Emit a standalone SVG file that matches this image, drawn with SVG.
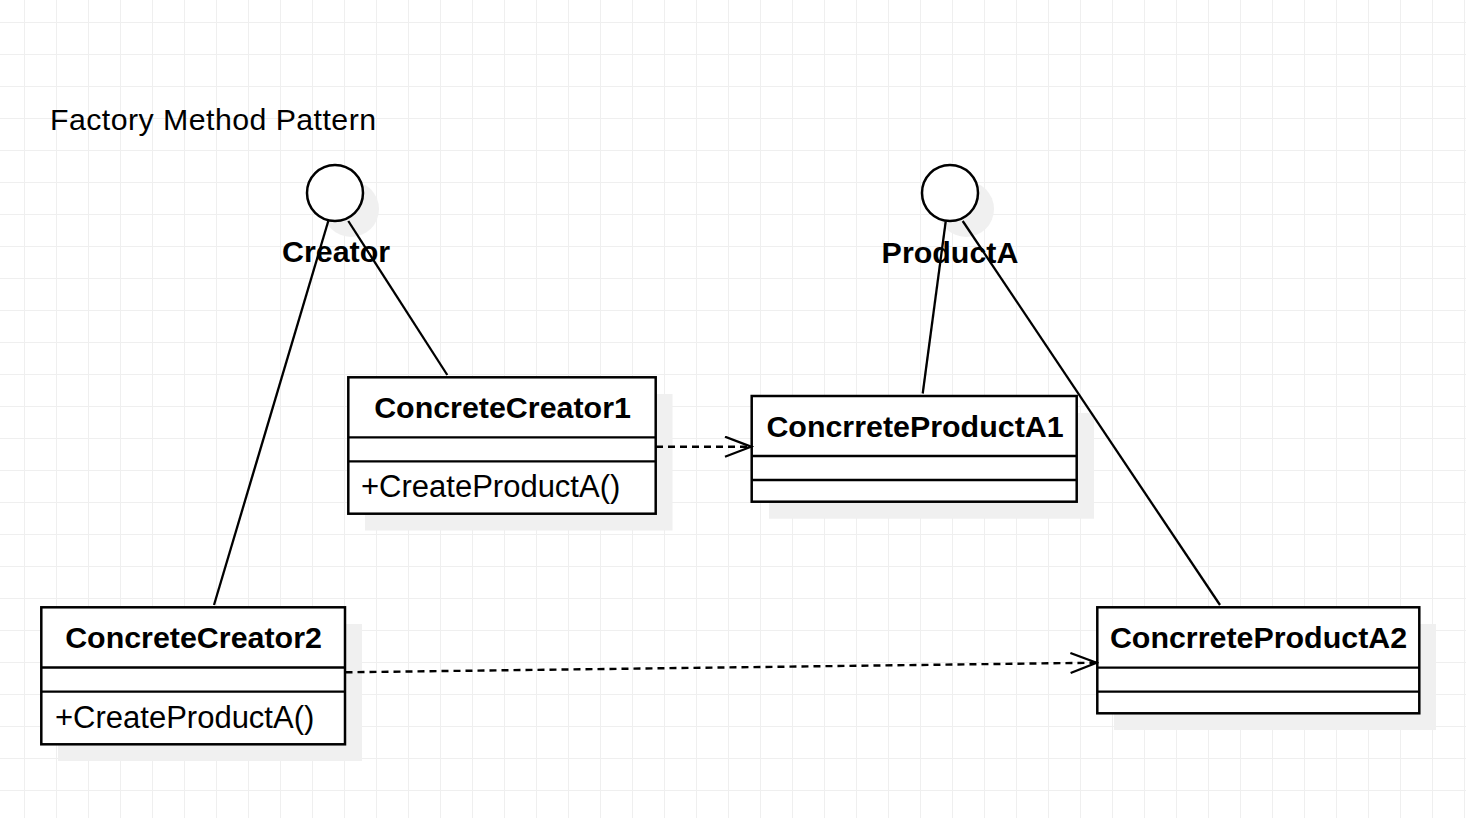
<svg xmlns="http://www.w3.org/2000/svg" width="1466" height="818" viewBox="0 0 1466 818">
<defs>
<pattern id="grid" x="24" y="22" width="32" height="32" patternUnits="userSpaceOnUse">
<path d="M0.5 0 V32 M0 0.5 H32" fill="none" stroke="#efefef" stroke-width="1"/>
</pattern>
<marker id="open" markerWidth="30" markerHeight="24" refX="27" refY="11" orient="auto" markerUnits="userSpaceOnUse">
<path d="M1 1 L27 11 L1 21" fill="none" stroke="#000" stroke-width="2.3"/>
</marker>
<style>
.box{fill:#fff;stroke:#000;stroke-width:2.5}
.div{stroke:#000;stroke-width:2.3}
.sh{fill:#f0f0f0}
.ln{stroke:#000;stroke-width:2.3;fill:none}
.dash{stroke:#000;stroke-width:2.4;fill:none;stroke-dasharray:7 5}
.t{font-family:"Liberation Sans",Arial,sans-serif;font-size:31px;fill:#000}
.b{font-weight:bold;text-anchor:middle;font-size:30.4px}
</style>
</defs>
<rect width="1466" height="818" fill="#fff"/>
<rect width="1466" height="818" fill="url(#grid)"/>
<text class="t" x="50" y="130" style="font-size:30.3px;letter-spacing:0.45px">Factory Method Pattern</text>

<g id="Creator">
<circle class="sh" cx="351" cy="209" r="28"/>
<circle cx="335" cy="193" r="28" fill="#fff" stroke="#000" stroke-width="2.5"/>
<text class="t b" x="336" y="262">Creator</text>
</g>
<g id="ProductA">
<circle class="sh" cx="966" cy="209" r="28"/>
<circle cx="950" cy="193" r="28" fill="#fff" stroke="#000" stroke-width="2.5"/>
<text class="t b" x="950" y="263">ProductA</text>
</g>

<g id="ConcreteCreator1">
<rect class="sh" x="365" y="394" width="307.5" height="136.5"/>
<rect class="box" x="348.3" y="377.3" width="307.4" height="136.4"/>
<line class="div" x1="348.3" y1="437.3" x2="655.7" y2="437.3"/>
<line class="div" x1="348.3" y1="461.3" x2="655.7" y2="461.3"/>
<text class="t b" x="502.5" y="418">ConcreteCreator1</text>
<text class="t" x="361" y="497">+CreateProductA()</text>
</g>
<g id="ConcreteCreator2">
<rect class="sh" x="58" y="624" width="304" height="137"/>
<rect class="box" x="41.3" y="607.3" width="303.7" height="137"/>
<line class="div" x1="41.3" y1="667.5" x2="345" y2="667.5"/>
<line class="div" x1="41.3" y1="691.7" x2="345" y2="691.7"/>
<text class="t b" x="193.5" y="648">ConcreteCreator2</text>
<text class="t" x="55" y="728">+CreateProductA()</text>
</g>
<g id="ConcrreteProductA1">
<rect class="sh" x="769" y="413" width="325" height="105.7"/>
<rect class="box" x="751.7" y="396" width="325" height="105.7"/>
<line class="div" x1="751.7" y1="456" x2="1076.7" y2="456"/>
<line class="div" x1="751.7" y1="480" x2="1076.7" y2="480"/>
<text class="t b" x="915" y="437">ConcrreteProductA1</text>
</g>
<g id="ConcrreteProductA2">
<rect class="sh" x="1114" y="624" width="322" height="106"/>
<rect class="box" x="1097.3" y="607.3" width="322" height="106"/>
<line class="div" x1="1097.3" y1="667.7" x2="1419.3" y2="667.7"/>
<line class="div" x1="1097.3" y1="691.7" x2="1419.3" y2="691.7"/>
<text class="t b" x="1258.5" y="648">ConcrreteProductA2</text>
</g>

<g id="connectors">
<line class="ln" x1="348.3" y1="221" x2="447.3" y2="375"/>
<line class="ln" x1="328.3" y1="221" x2="214" y2="605"/>
<line class="ln" x1="945.7" y1="221.5" x2="922.7" y2="393.5"/>
<line class="ln" x1="962.7" y1="221" x2="1220" y2="605"/>
<line class="dash" x1="656" y1="446.7" x2="751" y2="446.7" marker-end="url(#open)"/>
<line class="dash" x1="345.5" y1="672.3" x2="1096.5" y2="662.7" marker-end="url(#open)"/>
</g>
</svg>
